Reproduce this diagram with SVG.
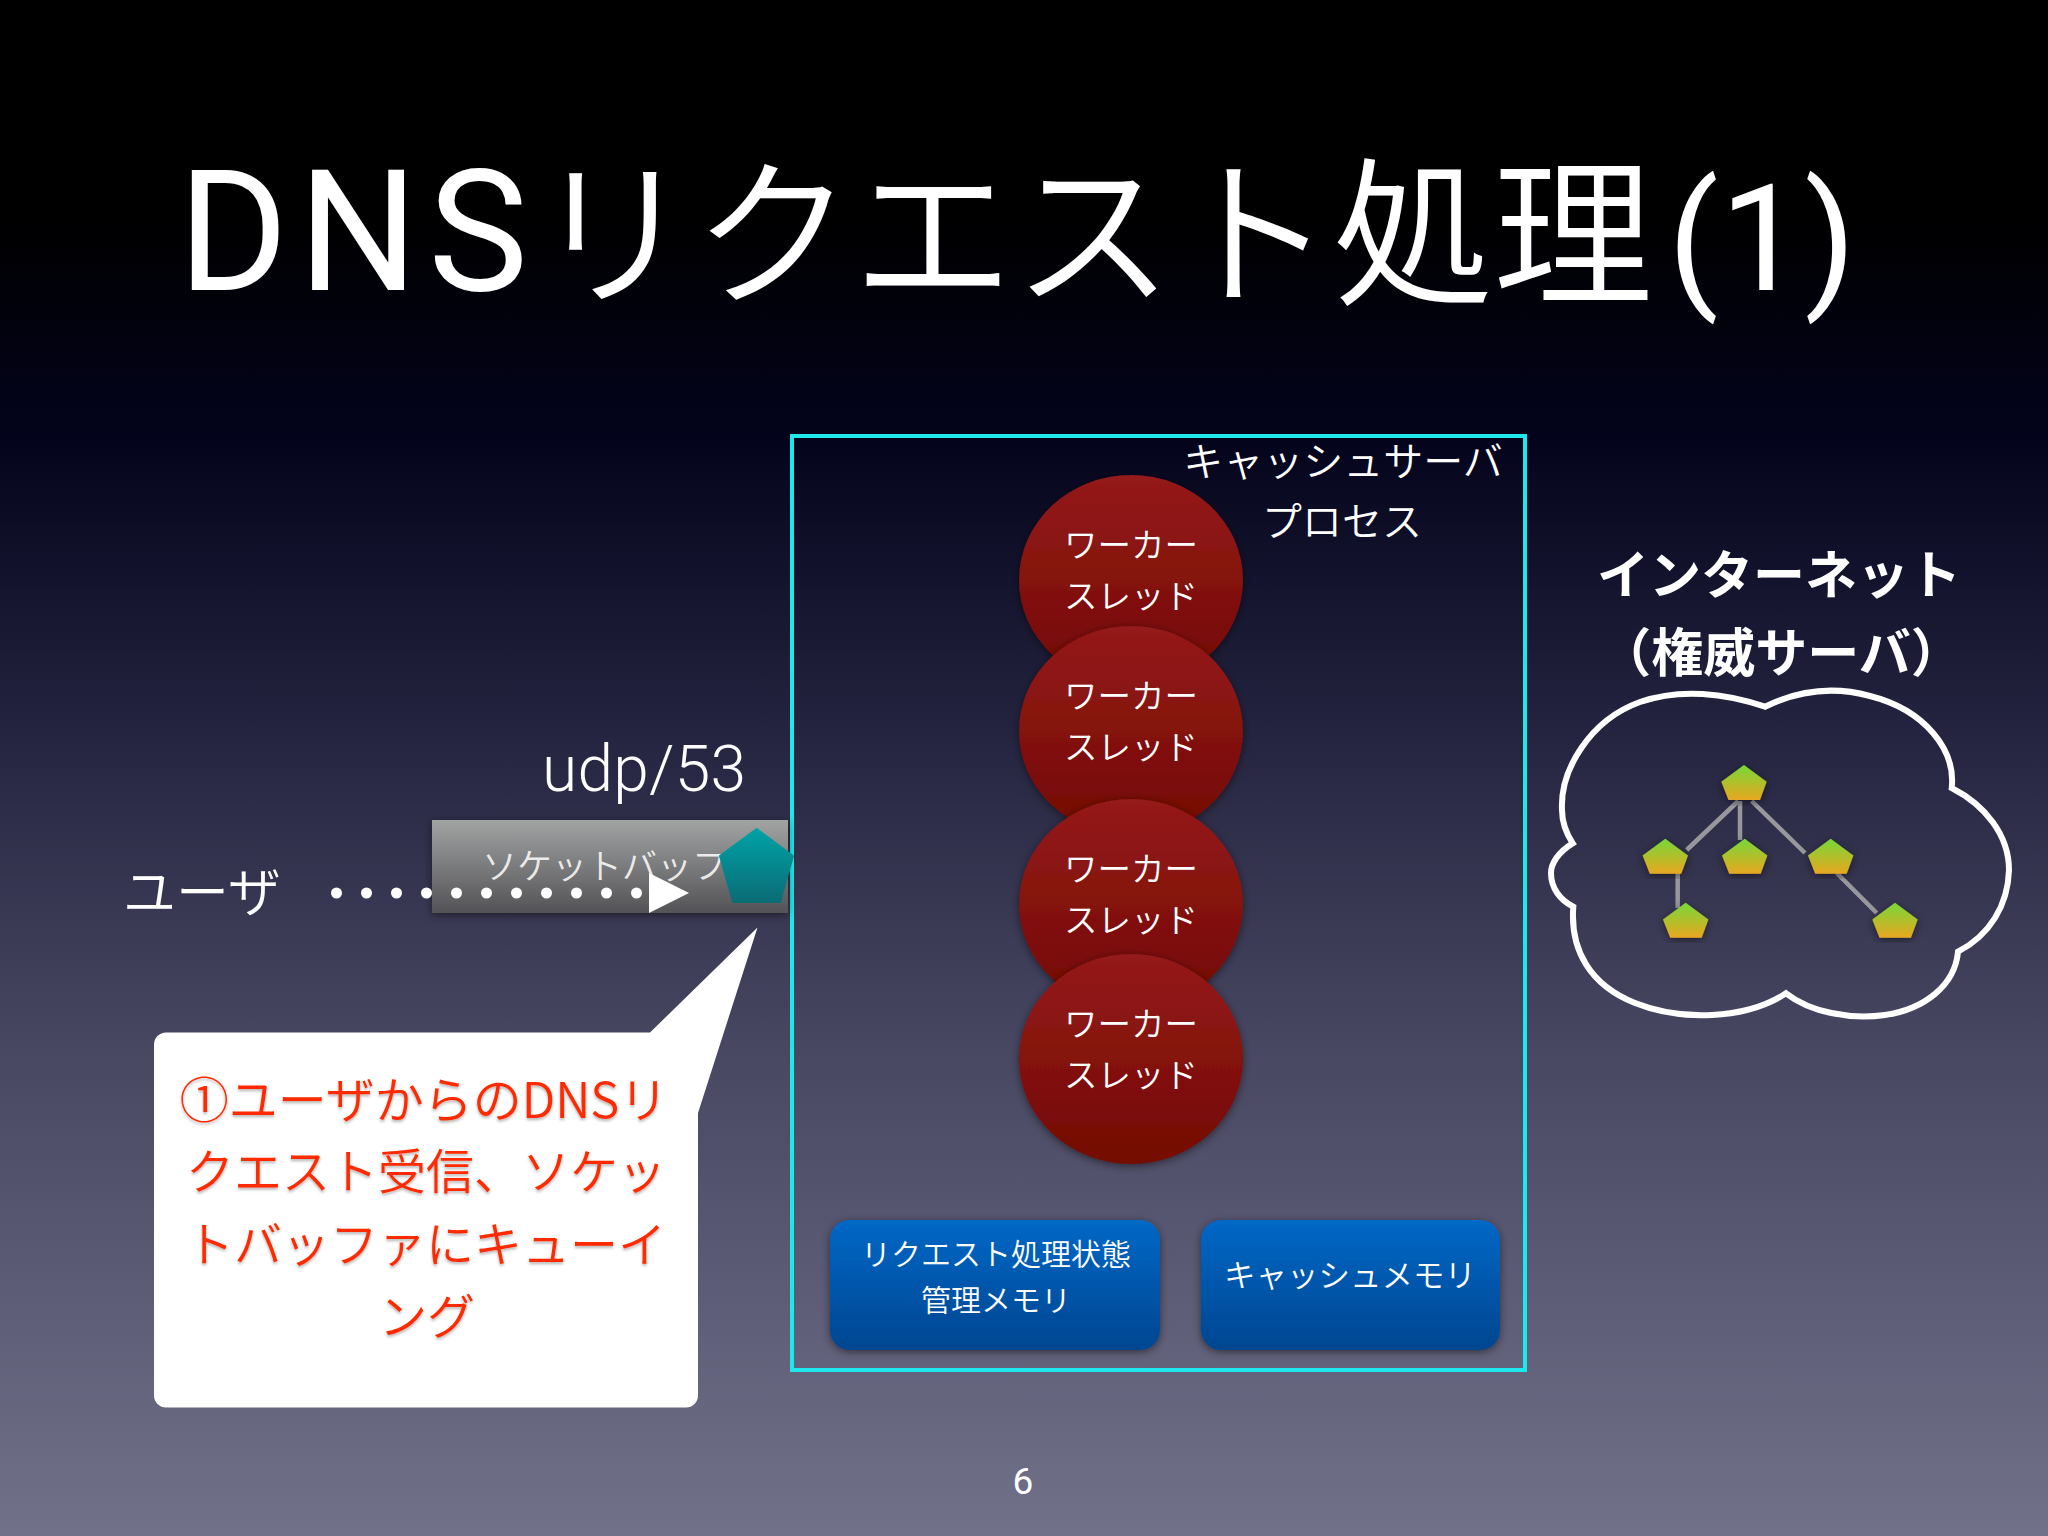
<svg xmlns="http://www.w3.org/2000/svg" width="2048" height="1536" viewBox="0 0 2048 1536">
<style>
text{font-family:"Noto Sans CJK JP","Noto Sans",sans-serif;fill:#fff;text-anchor:middle}
.lat{font-family:Roboto,"Liberation Sans",sans-serif;font-weight:400}
.l{font-weight:350}
.w{font-size:33.5px;font-weight:350}
.b{font-size:30px;font-weight:350}
.c{font-size:48px;font-weight:350;fill:#ff2a00;filter:url(#ts)}
.in{font-size:52px;font-weight:700}
.lk{stroke:#97979c;stroke-width:4.5;fill:none}
</style>
<defs>
<linearGradient id="bg" x1="0" y1="0" x2="0" y2="1"><stop offset="0" stop-color="#000"/><stop offset=".14" stop-color="#000"/><stop offset=".28" stop-color="#03031b"/><stop offset=".47" stop-color="#24233f"/><stop offset=".68" stop-color="#484762"/><stop offset="1" stop-color="#72718a"/></linearGradient>
<linearGradient id="red" x1="0" y1="0" x2="0" y2="1"><stop offset="0" stop-color="#951a1a"/><stop offset="1" stop-color="#730a02"/></linearGradient>
<linearGradient id="blue" x1="0" y1="0" x2="0" y2="1"><stop offset="0" stop-color="#0068c6"/><stop offset="1" stop-color="#044590"/></linearGradient>
<linearGradient id="gray" x1="0" y1="0" x2="0" y2="1"><stop offset="0" stop-color="#a2a3a3"/><stop offset="1" stop-color="#535356"/></linearGradient>
<linearGradient id="teal" x1="0" y1="0" x2="0" y2="1"><stop offset="0" stop-color="#00a2a8"/><stop offset="1" stop-color="#0b6c75"/></linearGradient>
<linearGradient id="pg" x1="0" y1="0" x2="0" y2="1"><stop offset=".1" stop-color="#82d336"/><stop offset="1" stop-color="#e8a71f"/></linearGradient>
<filter id="sh" x="-15%" y="-15%" width="130%" height="130%"><feDropShadow dx="0" dy="2" stdDeviation="4" flood-color="#000" flood-opacity=".5"/></filter>
<filter id="ts" x="-5%" y="-10%" width="110%" height="130%"><feDropShadow dx="0" dy="2" stdDeviation="1.500" flood-color="#000" flood-opacity=".3"/></filter>
<marker id="tri" markerUnits="userSpaceOnUse" markerWidth="40" markerHeight="40" refX="0" refY="20" orient="auto"><path d="M0 0L40 20L0 40Z" fill="#fff"/></marker>
<polygon id="pent" points="0,0 22.700,16.700 16,35 -15.500,35 -22.700,16.700" fill="url(#pg)" filter="url(#sh)"/>
<g id="workerLabel"><text class="w" x="1131" y="82">ワーカー</text><text class="w" x="1131" y="133">スレッド</text></g>
</defs>
<rect width="2048" height="1536" fill="url(#bg)"/>
<text id="title" y="290" font-size="160" style="text-anchor:start" class="l"><tspan class="lat" x="178" font-size="168" textLength="350">DNS</tspan><tspan x="533" y="293">リクエスト処理</tspan><tspan class="lat" x="1668" y="290" font-size="148" textLength="188">(1)</tspan></text>
<rect id="process-frame" x="792" y="436" width="733" height="934" fill="none" stroke="#1de9ec" stroke-width="4"/>
<g id="process-label"><text class="l" font-size="40" x="1343" y="476">キャッシュサーバ</text><text class="l" font-size="40" x="1342" y="536">プロセス</text></g>
<g id="worker1"><ellipse cx="1131" cy="580" rx="112" ry="105" fill="url(#red)" filter="url(#sh)"/><use href="#workerLabel" y="475"/></g>
<g id="worker2"><ellipse cx="1131" cy="731" rx="112" ry="105" fill="url(#red)" filter="url(#sh)"/><use href="#workerLabel" y="626"/></g>
<g id="worker3"><ellipse cx="1131" cy="904" rx="112" ry="105" fill="url(#red)" filter="url(#sh)"/><use href="#workerLabel" y="799"/></g>
<g id="worker4"><ellipse cx="1131" cy="1059" rx="112" ry="105" fill="url(#red)" filter="url(#sh)"/><use href="#workerLabel" y="954"/></g>
<g id="state-memory"><rect x="830" y="1220" width="330" height="130" rx="20" fill="url(#blue)" filter="url(#sh)"/><text class="b" x="996" y="1265">リクエスト処理状態</text><text class="b" x="996" y="1311">管理メモリ</text></g>
<g id="cache-memory"><rect x="1201" y="1220" width="299" height="130" rx="20" fill="url(#blue)" filter="url(#sh)"/><text class="b" style="font-size:31.500px" x="1350" y="1287">キャッシュメモリ</text></g>
<g id="user"><text class="l" font-size="53" x="202" y="912">ユーザ</text></g>
<g id="udp"><text class="lat" font-size="64" x="644" y="791" style="font-weight:300" textLength="204">udp/53</text></g>
<g id="socket-buffer"><rect x="432" y="820" width="356" height="93" fill="url(#gray)" filter="url(#sh)"/><text class="l" font-size="35" x="482" y="879" style="text-anchor:start" fill-opacity=".85">ソケットバッファ</text></g>
<g id="connectors"><line x1="336.500" y1="893" x2="649" y2="893" stroke="#fff" stroke-width="11" stroke-linecap="round" stroke-dasharray="0 30" marker-end="url(#tri)"/></g>
<g id="packet"><polygon points="756.600,829 793,856 780,902 733,902 720,856" fill="url(#teal)" stroke="url(#teal)" stroke-width="2" stroke-linejoin="round"/></g>
<g id="callout"><path d="M166 1032.500H650L757.500 927.500L698 1113V1395.500a12 12 0 0 1-12 12H166a12 12 0 0 1-12-12V1044.500a12 12 0 0 1 12-12Z" fill="#fff"/><text class="c" style="font-size:49px" x="424" y="1118">①ユーザからのDNSリ</text><text class="c" x="426" y="1189">クエスト受信、ソケッ</text><text class="c" x="426" y="1262">トバッファにキューイ</text><text class="c" x="427" y="1334">ング</text></g>
<g id="internet-label"><text class="in" x="1779" y="594">インターネット</text><text class="in" x="1781" y="672">（権威サーバ）</text></g>
<g id="cloud"><path d="M1765 706.700C1725 693 1680 688 1640 702C1590 720 1560 770 1562 810C1562 822 1566 833 1572.700 843.300C1558 852 1551 864 1551 873C1551 888 1560 900 1573.300 906.700C1570 950 1590 985 1635 1003C1680 1021 1745 1020 1786 993.300C1810 1012 1850 1020 1885 1015C1925 1009 1955 985 1958 951.700C1990 935 2008 905 2009 870C2009 835 1985 805 1951.700 788C1956 750 1925 710 1870 696C1830 685 1795 692 1765 706.700Z" fill="none" stroke="#fff" stroke-width="6"/></g>
<g id="tree-connectors"><path class="lk" d="M1738.300 801L1686.700 850M1740 801V840M1751.700 801L1805 853M1677.700 873V908M1836.700 873L1876.700 913"/></g>
<g id="dns1"><use href="#pent" x="1744" y="765"/></g>
<g id="dns2"><use href="#pent" x="1665.300" y="838.700"/></g>
<g id="dns3"><use href="#pent" x="1744.700" y="838.700"/></g>
<g id="dns4"><use href="#pent" x="1830.700" y="838.700"/></g>
<g id="dns5"><use href="#pent" x="1685.700" y="902.700"/></g>
<g id="dns6"><use href="#pent" x="1895" y="902.700"/></g>
<text id="page" class="lat" font-size="37" x="1023" y="1494">6</text>
</svg>
